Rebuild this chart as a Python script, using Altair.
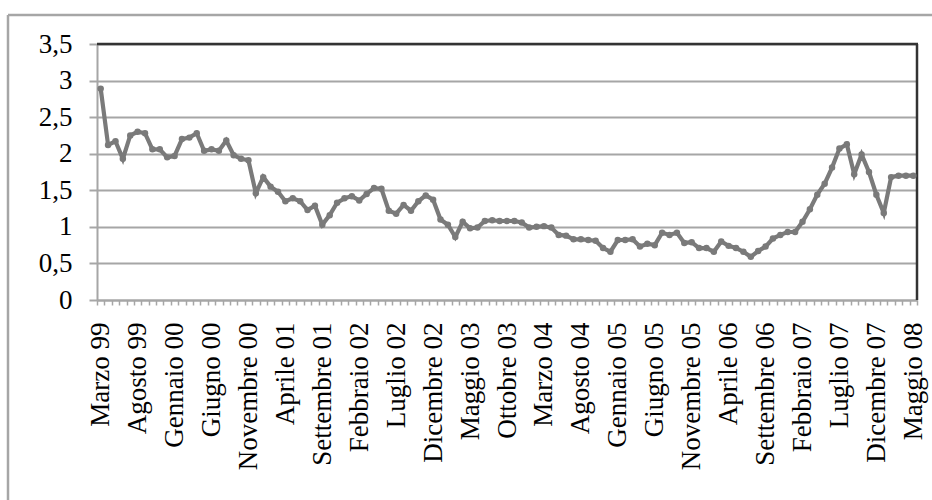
import altair as alt
import pandas as pd

# Etichette dell'asse orizzontale (una ogni cinque mesi)
ETICHETTE = [
    "Marzo 99", "Agosto 99", "Gennaio 00", "Giugno 00", "Novembre 00",
    "Aprile 01", "Settembre 01", "Febbraio 02", "Luglio 02", "Dicembre 02",
    "Maggio 03", "Ottobre 03", "Marzo 04", "Agosto 04", "Gennaio 05",
    "Giugno 05", "Novembre 05", "Aprile 06", "Settembre 06", "Febbraio 07",
    "Luglio 07", "Dicembre 07", "Maggio 08",
]

# Valori mensili, da marzo 1999 a maggio 2008
VALORI_1999_2001 = [
    2.89, 2.12, 2.17, 1.93, 2.25, 2.30, 2.28, 2.06, 2.06, 1.95,
    1.97, 2.20, 2.22, 2.28, 2.04, 2.06, 2.04, 2.18, 1.98, 1.93,
    1.91, 1.46, 1.68, 1.55, 1.48, 1.35, 1.39, 1.35, 1.23, 1.29,
    1.03, 1.16, 1.33, 1.39,
]
VALORI_2002_2004 = [
    1.42, 1.36, 1.45, 1.53, 1.52, 1.22, 1.18, 1.30, 1.22, 1.35,
    1.43, 1.37, 1.10, 1.03, 0.86, 1.07, 0.98, 0.99, 1.08, 1.09,
    1.08, 1.08, 1.08, 1.06, 0.99, 1.00, 1.01, 0.99, 0.89, 0.88,
    0.83, 0.83, 0.82, 0.81, 0.71, 0.66,
]
VALORI_2005_2008 = [
    0.82, 0.82, 0.83, 0.73, 0.77, 0.75, 0.92, 0.89, 0.92, 0.78,
    0.79, 0.71, 0.71, 0.66, 0.80, 0.74, 0.71, 0.66, 0.59, 0.67,
    0.73, 0.84, 0.89, 0.93, 0.93, 1.07, 1.24, 1.44, 1.59, 1.81,
    2.07, 2.13, 1.72, 1.99, 1.75, 1.44, 1.19, 1.68, 1.70, 1.70,
    1.70,
]
VALORI = VALORI_1999_2001 + VALORI_2002_2004 + VALORI_2005_2008

TICK_Y = [0, 0.5, 1, 1.5, 2, 2.5, 3, 3.5]

df = pd.DataFrame({"mese": list(range(len(VALORI))), "valore": VALORI})

W, H = 820, 256
FONT = "Liberation Serif"
GRIGIO = "#a6a6a6"
LINEA = "#7a7a7a"

elenco = "[" + ",".join("'" + e + "'" for e in ETICHETTE) + "]"
label_x = "datum.value % 5 === 0 ? " + elenco + "[datum.value / 5] : ''"

x_enc = alt.X(
    "mese:O",
    scale=alt.Scale(type="band", paddingInner=0, paddingOuter=0),
    axis=alt.Axis(
        title=None, labelExpr=label_x, labelAngle=-90, labelOverlap=False,
        tickBand="extent", tickSize=5, tickColor=GRIGIO, tickWidth=1.5,
        domainColor=GRIGIO, domainWidth=2, labelPadding=17,
        labelFont=FONT, labelFontSize=27, labelColor="#000000", grid=False,
    ),
)
y_enc = alt.Y(
    "valore:Q",
    scale=alt.Scale(domain=[0, 3.5], nice=False, zero=True),
    axis=alt.Axis(
        title=None, values=TICK_Y,
        labelExpr="replace(toString(datum.value), '.', ',')",
        tickSize=8, tickColor=GRIGIO, tickWidth=2,
        domainColor=GRIGIO, domainWidth=2, labelPadding=17,
        labelFont=FONT, labelFontSize=27, labelColor="#000000",
        grid=True, gridColor=GRIGIO, gridWidth=2,
    ),
)

serie = alt.Chart(df).mark_line(
    color=LINEA, strokeWidth=4.2,
    point=alt.OverlayMarkDef(filled=True, size=42, color=LINEA),
).encode(x=x_enc, y=y_enc)

uno = alt.Data(values=[{"k": 0}])

# bordo scuro dell'area del grafico (lati superiore e destro)
bordo_sup = alt.Chart(uno).mark_rule(color="#333333", strokeWidth=2.5).encode(
    x=alt.value(0), x2=alt.value(W + 1), y=alt.value(0)
)
bordo_dx = alt.Chart(uno).mark_rule(color="#333333", strokeWidth=2.5).encode(
    x=alt.value(W), y=alt.value(0), y2=alt.value(H)
)
# cornice esterna chiara
cornice_sup = alt.Chart(uno).mark_rule(color=GRIGIO, strokeWidth=2.5).encode(
    x=alt.value(-89), x2=alt.value(840), y=alt.value(-29)
)
cornice_sx = alt.Chart(uno).mark_rule(color=GRIGIO, strokeWidth=2.5).encode(
    x=alt.value(-89), y=alt.value(-29), y2=alt.value(460)
)

chart = alt.layer(
    cornice_sup, cornice_sx, bordo_sup, bordo_dx, serie
).properties(
    width=W, height=H,
    autosize=alt.AutoSizeParams(type="none"),
    padding={"left": 97, "top": 44, "right": 15, "bottom": 200},
    background="#ffffff",
).configure_view(stroke=None)

chart.save("out.html", embed_options={"renderer": "svg", "actions": False})
